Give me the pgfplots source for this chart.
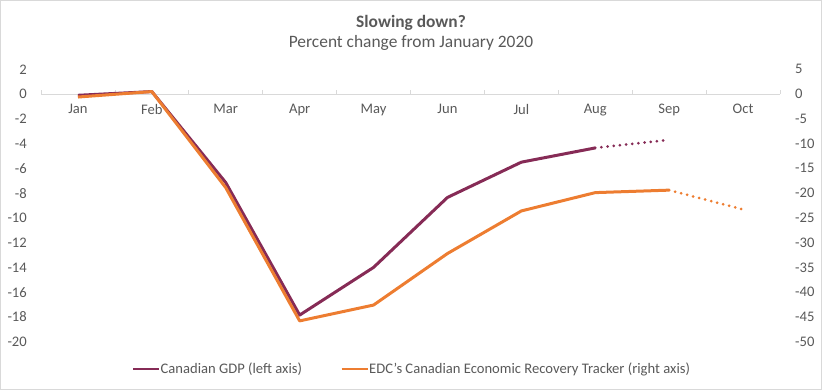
\documentclass[border=0pt]{standalone}
\usepackage{fontspec}
\setmainfont{Carlito}
\usepackage{pgfplots}
\pgfplotsset{compat=1.18}
\definecolor{gdp}{HTML}{862B56}
\definecolor{edc}{HTML}{ED7D31}
\definecolor{txt}{HTML}{595959}
\definecolor{gridc}{HTML}{D9D9D9}
\begin{document}
\begin{tikzpicture}[x=1pt,y=1pt]
\useasboundingbox (0,0) rectangle (822,390);
\draw[gridc, line width=0.75pt] (0.4,0.4) rectangle (821.6,389.6);
\node[text=txt, font=\fontsize{17.4}{20}\selectfont\bfseries] at (411,367.3) {Slowing down?};
\node[text=txt, font=\fontsize{17.4}{20}\selectfont] at (411,347.3) {Percent change from January 2020};
\begin{axis}[
  at={(41pt,48.3pt)}, anchor=south west, scale only axis,
  width=739pt, height=272.4pt,
  xmin=-0.5, xmax=9.5, ymin=-20, ymax=2,
  axis x line=middle, axis y line=left,
  x axis line style={-, draw=gridc, line width=0.75pt},
  y axis line style={draw=none},
  xtick={0,...,9},
  xticklabels={Jan,Feb,Mar,Apr,May,Jun,Jul,Aug,Sep,Oct},
  minor xtick={-0.5,0.5,1.5,2.5,3.5,4.5,5.5,6.5,7.5,8.5,9.5},
  major tick length=0pt, minor tick length=4pt, tick align=inside,
  minor x tick style={draw=gridc, line width=0.75pt},
  major x tick style={draw=none},
  ytick={-20,-18,...,2},
  /pgf/number format/assume math mode=true,
  ticklabel style={font=\fontsize{14.6}{16}\selectfont, text=txt},
  yticklabel style={inner sep=0pt, xshift=-14pt},
  xticklabel style={inner sep=0pt, yshift=-10pt},
  legend style={at={(0.501,-0.1)}, anchor=center, draw=none, fill=none,
    legend columns=2, font=\fontsize{14.6}{16}\selectfont, text=txt,
    /tikz/every even column/.append style={column sep=38pt},
    nodes={inner sep=0.5pt}},
  legend image code/.code={\draw[#1, line width=2.2pt] (0pt,0pt) -- (26pt,0pt);},
]
\addplot[gdp, line width=3pt, line join=round] coordinates {
  (0,-0.1) (1,0.2) (2,-7.15) (3,-17.85) (4,-14.0) (5,-8.35) (6,-5.5) (7,-4.35)};
\addlegendentry{Canadian GDP (left axis)}
\addplot[gdp, line width=3pt, line cap=round, dash pattern=on 0pt off 6.2pt, forget plot] coordinates {
  (7,-4.35) (8,-3.7)};
\addlegendimage{edc}
\addlegendentry{EDC’s Canadian Economic Recovery Tracker (right axis)}
\end{axis}
\begin{axis}[
  at={(41pt,48.3pt)}, anchor=south west, scale only axis,
  width=739pt, height=272.4pt,
  xmin=-0.5, xmax=9.5, ymin=-50, ymax=5,
  axis x line=none, axis y line*=right,
  y axis line style={draw=none},
  major tick length=0pt,
  ytick={-50,-45,...,5},
  /pgf/number format/assume math mode=true,
  ticklabel style={font=\fontsize{14.6}{16}\selectfont, text=txt},
  yticklabel style={anchor=west, inner sep=0pt, xshift=15pt},
]
\addplot[edc, line width=3pt, line join=round] coordinates {
  (0,-0.6) (1,0.5) (2,-18.9) (3,-45.8) (4,-42.6) (5,-32.2) (6,-23.6) (7,-19.9) (8,-19.4)};
\addplot[edc, line width=3pt, line cap=round, dash pattern=on 0pt off 6.2pt] coordinates {
  (8,-19.4) (9,-23.3)};
\end{axis}
\end{tikzpicture}
\end{document}
